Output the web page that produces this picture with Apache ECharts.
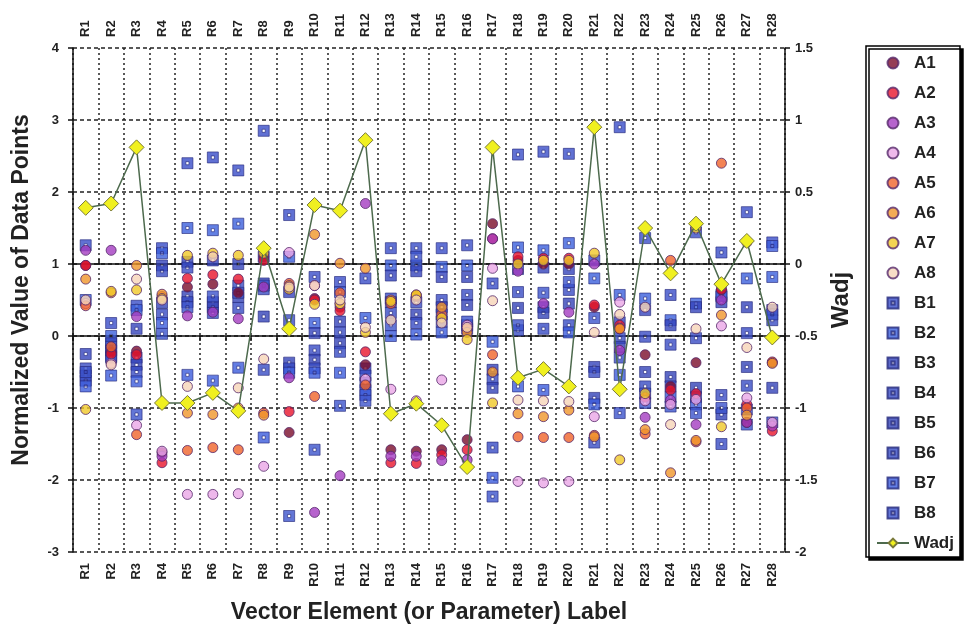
<!DOCTYPE html>
<html><head><meta charset="utf-8">
<script src="https://cdn.jsdelivr.net/npm/echarts@6/dist/echarts.min.js"></script>
<style>html,body{margin:0;padding:0;background:#fff}#c{width:969px;height:629px}</style>
</head><body><div id="c"></div>
<script>
const categories = ['R1','R2','R3','R4','R5','R6','R7','R8','R9','R10','R11','R12','R13','R14','R15','R16','R17','R18','R19','R20','R21','R22','R23','R24','R25','R26','R27','R28'];
const leftTicks = { min: -3, max: 4, step: 1 };
const rightTicks = { min: -2, max: 1.5, step: 0.5 };

const A1 = [0.98,-0.22,-0.21,-1.62,0.68,0.72,0.6,1.1,-1.34,0.52,0.4,-0.4,-1.58,-1.6,-1.58,-1.44,1.56,1.05,1.0,1.0,0.4,0.1,-0.26,-0.7,-0.37,0.64,-1.2,-0.37];
const A2 = [0.98,-0.25,-0.26,-1.76,0.8,0.85,0.79,1.05,-1.05,0.5,0.35,-0.22,-1.76,-1.77,-1.65,-1.58,1.35,1.1,1.08,1.08,0.43,0.15,-0.85,-0.75,-0.8,0.65,-0.95,-1.32];
const A3 = [1.19,1.19,0.27,-1.67,0.28,0.33,0.24,0.68,-0.58,-2.45,-1.94,1.84,-1.67,-1.67,-1.73,-1.72,1.35,0.9,0.45,0.33,1.0,-0.2,-1.13,-0.89,-1.23,0.5,-1.2,-1.25];
const A4 = [0.45,-0.38,-1.24,-1.6,-2.2,-2.2,-2.19,-1.81,1.16,0.7,0.45,-0.6,-0.74,-0.9,-0.61,0.15,0.94,-2.02,-2.04,-2.02,-1.12,0.47,-0.9,-0.95,-0.88,0.14,-0.86,-1.2];
const A5 = [0.42,-0.15,-1.37,0.55,-1.59,-1.55,-1.58,-1.07,0.73,-0.84,0.6,-0.68,0.45,0.55,0.3,0.1,-0.26,-1.4,-1.41,-1.41,-1.38,0.11,-1.36,1.05,-1.47,2.4,-1.0,-0.36];
const A6 = [0.79,0.6,0.98,0.58,-1.07,-1.09,-1.0,-1.1,0.7,1.41,1.01,0.94,0.5,0.57,0.4,0.05,-0.5,-1.08,-1.12,-1.03,-1.4,0.1,-1.3,-1.9,-1.45,0.29,-1.1,-0.38];
const A7 = [-1.02,0.62,0.64,0.52,1.12,1.15,1.12,1.15,0.65,0.44,0.45,0.05,0.48,0.57,0.25,-0.05,-0.93,1.0,1.05,1.05,1.15,-1.72,-0.8,0.87,1.5,-1.26,1.3,-0.02];
const A8 = [0.5,-0.4,0.79,0.5,-0.7,1.1,-0.72,-0.32,0.68,0.7,0.5,0.12,0.22,0.5,0.18,0.12,0.49,-0.89,-0.9,-0.91,0.05,0.3,0.4,-1.23,0.1,0.7,-0.16,0.4];
const B1 = [1.26,0.18,0.42,1.22,2.4,2.48,2.3,2.85,1.68,0.82,0.75,0.8,1.22,1.22,1.22,1.26,0.73,2.52,2.56,2.53,1.05,2.9,1.36,0.57,1.44,1.16,1.72,1.3];
const B2 = [0.5,0.0,0.36,1.15,1.5,1.47,1.56,1.1,1.1,0.18,0.61,0.25,0.98,0.98,0.96,0.98,-0.08,1.23,1.19,1.29,0.8,0.57,0.52,0.22,0.45,0.57,0.8,0.82];
const B3 = [-0.25,-0.1,0.1,0.98,1.03,1.05,1.0,0.73,0.61,0.04,0.2,-0.45,0.84,0.9,0.82,0.82,-0.47,0.93,0.95,0.93,-0.43,0.19,0.36,0.15,0.4,0.47,0.4,0.36];
const B4 = [-0.45,-0.2,-0.3,0.9,0.95,0.47,0.7,0.65,0.22,-0.2,0.05,-0.55,0.52,0.47,0.5,0.57,-0.6,0.61,0.4,0.64,-0.5,-0.03,-0.01,-0.12,-0.03,-0.82,0.04,0.22];
const B5 = [-0.55,-0.3,-0.4,0.46,0.55,0.4,0.54,0.27,-0.37,-0.33,-0.1,-0.65,0.47,0.3,0.4,0.43,-0.72,0.39,0.32,0.45,-0.86,-0.15,-0.5,-0.57,-0.72,-1.09,-0.43,-0.72];
const B6 = [-0.62,-0.28,-0.5,0.3,0.47,0.32,0.39,-0.47,-0.45,-0.45,-0.22,-0.75,0.32,0.18,0.3,0.15,-1.55,0.08,0.1,0.15,-1.48,-0.3,-0.7,-0.7,-0.85,-1.5,-0.69,-1.2];
const B7 = [-0.7,-0.55,-0.63,0.18,-0.54,-0.62,-0.44,-1.41,-0.51,-0.51,-0.51,-0.82,0.0,0.02,0.05,0.1,-1.97,-0.7,-0.75,0.05,-0.95,-0.54,-0.8,-0.85,-0.95,0.55,-1.02,1.25];
const B8 = [-0.5,-0.15,-1.09,0.03,0.4,0.55,0.6,0.7,-2.5,-1.58,-0.97,-0.9,0.15,1.1,0.2,0.2,-2.23,0.15,0.6,0.75,0.25,-1.07,-0.93,-0.98,-1.07,-1.0,-1.23,0.3];
const Wadj = [0.39,0.42,0.81,-0.965,-0.965,-0.895,-1.02,0.11,-0.45,0.41,0.37,0.86,-1.04,-0.97,-1.12,-1.41,0.81,-0.79,-0.73,-0.85,0.95,-0.87,0.25,-0.065,0.28,-0.14,0.16,-0.51];

const aSeries = [['A1',A1,'#7b0c2a'],['A2',A2,'#e8142c'],['A3',A3,'#a43cc0'],['A4',A4,'#eaa6e6'],
                 ['A5',A5,'#f0642a'],['A6',A6,'#f0962a'],['A7',A7,'#f0c828'],['A8',A8,'#f6d4b8']];
const bSeries = [['B1',B1,'#3a4ec8'],['B2',B2,'#3c60dc'],['B3',B3,'#3444bc'],['B4',B4,'#3a4cc4'],
                 ['B5',B5,'#3444b8'],['B6',B6,'#384cc4'],['B7',B7,'#3c5cdc'],['B8',B8,'#3c54cc']];

const FONT = 'Liberation Sans, Arial, sans-serif';
const squareHole = 'path://M0,0H10V10H0Z M3.6,3.6V6.4H6.4V3.6Z';

const series = [];
aSeries.forEach(([n,d,c]) => series.push({
  name:n, type:'scatter', xAxisIndex:0, yAxisIndex:0, data:d,
  symbol:'circle', symbolSize:10,
  itemStyle:{color:c, borderColor:'#55286a', borderWidth:1},
  z:3
}));
bSeries.forEach(([n,d,c]) => series.push({
  name:n, type:'scatter', xAxisIndex:0, yAxisIndex:0, data:d,
  symbol:squareHole, symbolSize:11,
  itemStyle:{color:c, borderColor:'#24287a', borderWidth:0.8},
  z:2
}));
series.push({
  name:'Wadj', type:'line', xAxisIndex:0, yAxisIndex:1, data:Wadj,
  symbol:'diamond', symbolSize:15,
  lineStyle:{color:'#4d6a4d', width:1.5},
  itemStyle:{color:'#f0f020', borderColor:'#7a7a3a', borderWidth:1},
  z:5
});

const axisLineStyle = {show:true, lineStyle:{color:'#111', width:1.5}};
const xLabel = {rotate:90, fontSize:13, fontWeight:'bold', color:'#222', fontFamily:FONT, margin:11};

const option = {
  backgroundColor:'#fff',
  animation:false,
  grid:{left:73, right:184, top:48, bottom:76},
  legend:{
    orient:'vertical', left:866, top:46,
    padding:[8,6,5,10], itemGap:12, itemWidth:32, itemHeight:11,
    backgroundColor:'#fff', borderColor:'#000', borderWidth:1.5,
    shadowColor:'#000', shadowOffsetX:3, shadowOffsetY:3, shadowBlur:0,
    textStyle:{fontSize:17, fontWeight:'bold', color:'#222', fontFamily:FONT, lineHeight:18},
    data:[...aSeries.map(s=>s[0]), ...bSeries.map(s=>s[0]), 'Wadj']
  },
  xAxis:[
    {type:'category', data:categories, position:'bottom', boundaryGap:true,
     axisLine:axisLineStyle, axisTick:{show:true, length:5, lineStyle:{color:'#111', width:1.5}},
     axisLabel:xLabel,
     splitLine:{show:true, lineStyle:{color:'#222', width:1.5, type:[2,3]}},
     name:'Vector Element (or Parameter) Label', nameLocation:'middle', nameGap:49,
     nameTextStyle:{fontSize:23, fontWeight:'bold', color:'#222', fontFamily:FONT}},
    {type:'category', data:categories, position:'top', boundaryGap:true,
     axisLine:axisLineStyle, axisTick:{show:true, length:5, lineStyle:{color:'#111', width:1.5}},
     axisLabel:xLabel, splitLine:{show:false}}
  ],
  yAxis:[
    {type:'value', position:'left', min:leftTicks.min, max:leftTicks.max, interval:leftTicks.step,
     axisLine:axisLineStyle, axisTick:{show:true, length:5, lineStyle:{color:'#111', width:1.5}},
     axisLabel:{fontSize:13, fontWeight:'bold', color:'#222', fontFamily:FONT, margin:14},
     splitLine:{show:true, lineStyle:{color:'#222', width:1.5, type:[4,3]}},
     name:'Normalized Value of Data Points', nameLocation:'middle', nameGap:40, nameRotate:90,
     nameTextStyle:{fontSize:23, fontWeight:'bold', color:'#222', fontFamily:FONT, padding:[0,0,0,20]}},
    {type:'value', position:'right', min:rightTicks.min, max:rightTicks.max, interval:rightTicks.step,
     axisLine:axisLineStyle, axisTick:{show:true, length:5, lineStyle:{color:'#111', width:1.5}},
     axisLabel:{fontSize:13, fontWeight:'bold', color:'#222', fontFamily:FONT, margin:10},
     splitLine:{show:false},
     name:'Wadj', nameLocation:'middle', nameGap:44, nameRotate:90,
     nameTextStyle:{fontSize:24, fontWeight:'bold', color:'#222', fontFamily:FONT}}
  ],
  series:series
};
const chart = echarts.init(document.getElementById('c'), null, {renderer:'canvas'});
chart.setOption(option);
</script></body></html>
